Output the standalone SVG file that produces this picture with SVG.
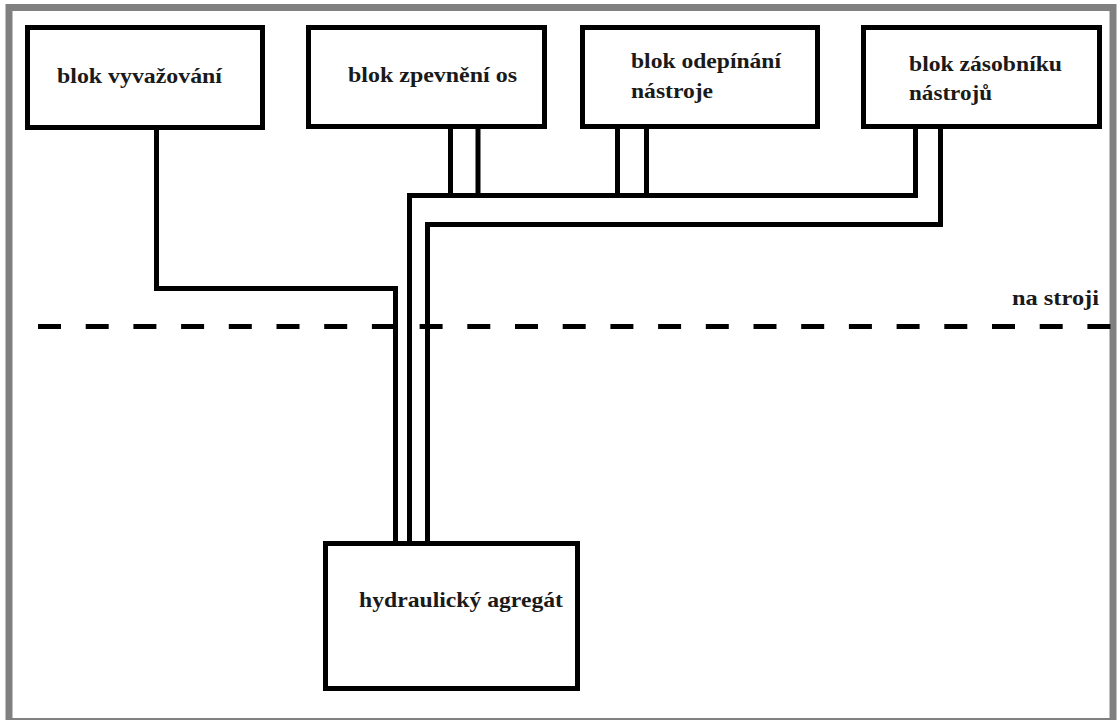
<svg xmlns="http://www.w3.org/2000/svg" width="1120" height="720" viewBox="0 0 1120 720">
<style>
.box{fill:#fff;stroke:#000;stroke-width:5}
.pipe{fill:none;stroke:#000;stroke-width:5;stroke-linejoin:miter;stroke-linecap:square}
.lbl{font-family:"Liberation Serif","Times New Roman",serif;font-weight:bold;font-size:21px;fill:#1a1a1a}
</style>
<rect x="0" y="0" width="1120" height="720" fill="#fff"/>
<rect x="9" y="7.5" width="1104" height="714" fill="none" stroke="#808080" stroke-width="7"/>
<g id="connectors">
<polyline class="pipe" points="156.5,130 156.5,288.5 395.5,288.5 395.5,543"/>
<polyline class="pipe" points="915.5,129 915.5,195.5 409.5,195.5 409.5,543"/>
<polyline class="pipe" points="940.5,129 940.5,224.5 427.5,224.5 427.5,543"/>
<line class="pipe" x1="450.5" y1="129" x2="450.5" y2="195.5"/>
<line class="pipe" x1="478" y1="129" x2="478" y2="195.5"/>
<line class="pipe" x1="617.5" y1="129" x2="617.5" y2="195.5"/>
<line class="pipe" x1="646.5" y1="129" x2="646.5" y2="195.5"/>
</g>
<g id="boundary">
<line x1="38" y1="326.5" x2="1112" y2="326.5" stroke="#000" stroke-width="5" stroke-dasharray="23 24.7" stroke-linecap="butt"/>
<text class="lbl" x="1012" y="305" textLength="87" lengthAdjust="spacingAndGlyphs">na stroji</text>
</g>
<g id="blok-vyvazovani">
<rect class="box" x="27.5" y="27.5" width="235" height="100"/>
<text class="lbl" x="57" y="83" textLength="165" lengthAdjust="spacingAndGlyphs">blok vyvažování</text>
</g>
<g id="blok-zpevneni-os">
<rect class="box" x="308.5" y="27.5" width="236" height="99"/>
<text class="lbl" x="348" y="82" textLength="169" lengthAdjust="spacingAndGlyphs">blok zpevnění os</text>
</g>
<g id="blok-odepinani">
<rect class="box" x="582.5" y="27.5" width="235" height="99"/>
<text class="lbl" x="631" y="68" textLength="150" lengthAdjust="spacingAndGlyphs">blok odepínání</text>
<text class="lbl" x="631" y="98" textLength="82" lengthAdjust="spacingAndGlyphs">nástroje</text>
</g>
<g id="blok-zasobniku">
<rect class="box" x="863.5" y="27.5" width="236" height="99"/>
<text class="lbl" x="909" y="71" textLength="153" lengthAdjust="spacingAndGlyphs">blok zásobníku</text>
<text class="lbl" x="909" y="100" textLength="83" lengthAdjust="spacingAndGlyphs">nástrojů</text>
</g>
<g id="hydraulicky-agregat">
<rect class="box" x="325.5" y="543.5" width="252" height="145"/>
<text class="lbl" x="359" y="607" textLength="204" lengthAdjust="spacingAndGlyphs">hydraulický agregát</text>
</g>
</svg>
